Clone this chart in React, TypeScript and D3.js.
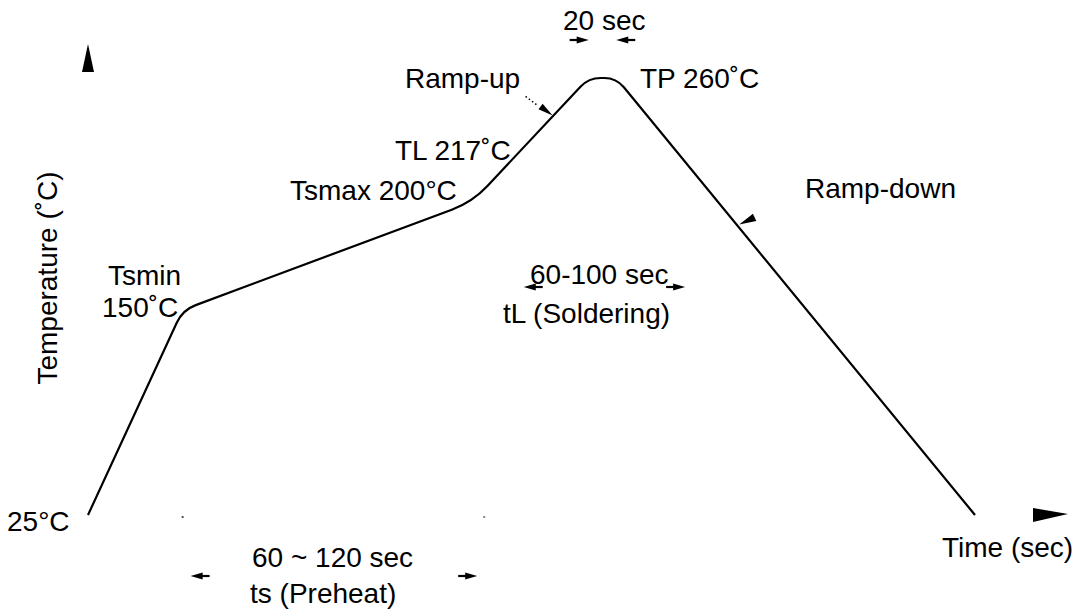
import React from "react";
import * as d3 from "d3";

// ---- Data (schematic reflow profile) ----
const profileTime = [0, 48, 195, 254, 268, 450]; // sec
const profileTemp = [25, 150, 200, 260, 260, 25]; // °C
const tempStops = [25, 150, 200, 260]; // schematic temperature breakpoints
const preheatSpan = [48, 201]; // ts
const solderSpan = [217, 307]; // tL
const peakSpan = [254, 268]; // 20 sec at peak

const W = 1081;
const H = 611;
const FONT = "'Liberation Sans', Arial, Helvetica, sans-serif";
const FS = 28;

const x = d3.scaleLinear().domain([0, 450]).range([88, 975]);
// schematic (polylinear) temperature axis
const y = d3.scaleLinear().domain(tempStops).range([515, 310, 202, 78]);

type P = [number, number];

function roundedPath(pts: P[], radii: number[]) {
  const p = d3.path();
  p.moveTo(pts[0][0], pts[0][1]);
  for (let i = 1; i < pts.length - 1; i++) {
    const [px, py] = pts[i - 1];
    const [cx, cy] = pts[i];
    const [nx, ny] = pts[i + 1];
    const d1 = Math.hypot(px - cx, py - cy);
    const d2 = Math.hypot(nx - cx, ny - cy);
    const r1 = Math.min(radii[i], d1 / 2);
    const r2 = Math.min(radii[i], d2 / 2);
    p.lineTo(cx + ((px - cx) * r1) / d1, cy + ((py - cy) * r1) / d1);
    p.quadraticCurveTo(cx, cy, cx + ((nx - cx) * r2) / d2, cy + ((ny - cy) * r2) / d2);
  }
  const last = pts[pts.length - 1];
  p.lineTo(last[0], last[1]);
  return p.toString();
}

// small arrow: tip at (tx,ty), pointing in direction (dx,dy)
function Arrow({ tx, ty, dx, dy, len = 12, half = 3.5, tail = 7 }: any) {
  const n = Math.hypot(dx, dy);
  const ux = dx / n, uy = dy / n;
  const bx = tx - ux * len, by = ty - uy * len;
  const px = -uy, py = ux;
  const pts = [
    [tx, ty],
    [bx + px * half, by + py * half],
    [bx - px * half, by - py * half],
  ];
  return (
    <g>
      {tail > 0 && (
        <line x1={bx + ux} y1={by + uy} x2={bx - ux * tail} y2={by - uy * tail} stroke="#000" strokeWidth={2.2} />
      )}
      <polygon points={pts.map((q) => q.join(",")).join(" ")} fill="#000" />
    </g>
  );
}

function T({ x: tx, y: ty, children, anchor = "start" }: any) {
  return (
    <text x={tx} y={ty} fontFamily={FONT} fontSize={FS} fill="#000" textAnchor={anchor}>
      {children}
    </text>
  );
}

export default function App() {
  const pts: P[] = profileTime.map((t, i) => [x(t), y(profileTemp[i])]);
  const path = roundedPath(pts, [0, 14, 22, 12, 12, 0]);

  // point on a profile segment at a given fraction
  const onSeg = (i: number, f: number): P => [
    pts[i][0] + (pts[i + 1][0] - pts[i][0]) * f,
    pts[i][1] + (pts[i + 1][1] - pts[i][1]) * f,
  ];
  const rampUp = onSeg(2, 0.69);
  const rampDown = onSeg(4, 0.34);

  const yArrowX = x(0);
  const xArrowY = y(25);

  const prY = 576;
  const slY = 287;
  const pkY = 40;

  return (
    <svg width={W} height={H} style={{ position: "absolute", left: 0, top: 0, background: "#fff" }}>
      <rect width={W} height={H} fill="#fff" />
      {/* axis arrowheads */}
      <polygon points={`${yArrowX},44 ${yArrowX - 6},72 ${yArrowX + 6},72`} fill="#000" />
      <polygon points={`1033,${xArrowY - 7} 1068,${xArrowY - 1} 1033,${xArrowY + 7}`} fill="#000" />

      {/* profile */}
      <path d={path} fill="none" stroke="#000" strokeWidth={2.2} strokeLinejoin="round" />

      {/* ramp-up leader */}
      <line
        x1={rampUp[0] - 27}
        y1={rampUp[1] - 20}
        x2={rampUp[0] - 15}
        y2={rampUp[1] - 11}
        stroke="#000"
        strokeWidth={1.5}
        strokeDasharray="1.5,2.5"
      />
      <Arrow tx={rampUp[0]} ty={rampUp[1] - 1} dx={27} dy={20} len={15} half={3.5} tail={0} />
      {/* ramp-down marker */}
      <Arrow tx={rampDown[0] + 1} ty={rampDown[1] - 2} dx={-17} dy={8} len={17} half={4} tail={0} />

      {/* extension dots */}
      <rect x={x(preheatSpan[0]) - 1} y={xArrowY + 1} width={2} height={2} fill="#555" />
      <rect x={x(preheatSpan[1]) - 1} y={xArrowY + 1} width={2} height={2} fill="#888" />

      {/* dimension arrows */}
      <Arrow tx={x(preheatSpan[0]) + 8} ty={prY} dx={-1} dy={0} />
      <Arrow tx={x(preheatSpan[1]) - 7} ty={prY} dx={1} dy={0} />
      <Arrow tx={x(solderSpan[0]) + 8} ty={slY} dx={-1} dy={0} />
      <Arrow tx={x(solderSpan[1]) - 8} ty={slY} dx={1} dy={0} />
      <Arrow tx={x(peakSpan[0])} ty={pkY} dx={1} dy={0} />
      <Arrow tx={x(peakSpan[1])} ty={pkY} dx={-1} dy={0} />

      {/* labels */}
      <T x={563} y={30}>20 sec</T>
      <T x={640} y={88}>TP 260˚C</T>
      <T x={405} y={88}>Ramp-up</T>
      <T x={395} y={160}>TL 217˚C</T>
      <T x={290} y={200}>Tsmax 200°C</T>
      <T x={805} y={198}>Ramp-down</T>
      <T x={108} y={285}>Tsmin</T>
      <T x={102} y={317}>150˚C</T>
      <T x={530} y={284}>60-100 sec</T>
      <T x={503} y={323}>tL (Soldering)</T>
      <T x={7} y={531}>25°C</T>
      <T x={252} y={567}>60 ~ 120 sec</T>
      <T x={250} y={603}>ts (Preheat)</T>
      <T x={942} y={557}>Time (sec)</T>
      <text
        transform="translate(57,278) rotate(-90)"
        fontFamily={FONT}
        fontSize={FS}
        textAnchor="middle"
        fill="#000"
      >
        Temperature (˚C)
      </text>
    </svg>
  );
}
